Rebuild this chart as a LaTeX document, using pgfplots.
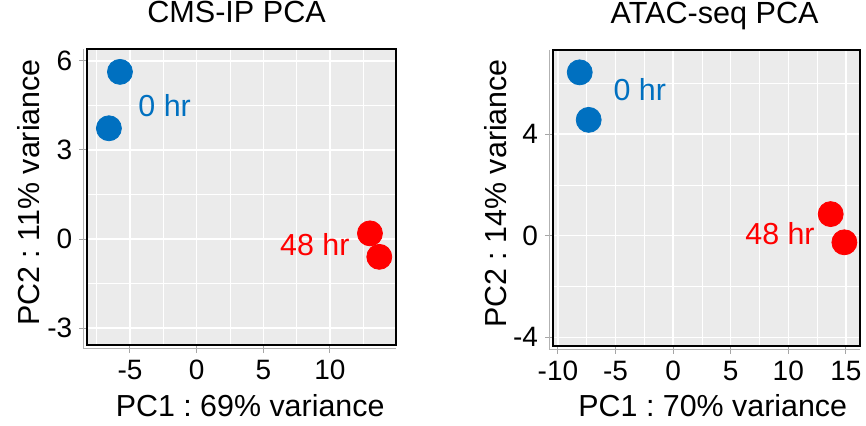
\documentclass[border=0pt]{standalone}
\usepackage{fontspec}
\setmainfont{Liberation Sans}
\usepackage{pgfplots}
\pgfplotsset{compat=1.18}
\definecolor{panelbg}{HTML}{EBEBEB}
\definecolor{grpblue}{HTML}{0070C0}
\definecolor{grpred}{HTML}{FF0000}
\frenchspacing

\tikzset{tag/.style={text=#1, font=\fontsize{15.2}{16}\selectfont}}
\pgfplotsset{
  pcapanel/.style={
    scale only axis,
    clip=false,
    axis background/.style={fill=panelbg},
    axis line style={black, line width=1pt},
    grid=both,
    major grid style={white, line width=0.7pt},
    minor grid style={white, line width=0.35pt},
    tick align=outside,
    major tick length=4pt,
    minor tick length=0pt,
    tick style={gray!70, line width=0.5pt},
    xtick pos=bottom, ytick pos=left,
    ticklabel style={font=\fontsize{14}{15}\selectfont, text=black},
    label style={font=\fontsize{15.2}{16}\selectfont},
    title style={font=\fontsize{15.3}{16}\selectfont, anchor=base},
    ylabel style={anchor=base},
    xlabel style={anchor=base},
  },
  dots/.style={only marks, mark=*, mark size=6.25pt, color=#1},
}

\begin{document}
\begin{tikzpicture}
\useasboundingbox (0,0) rectangle (433pt,213pt);

% left panel: CMS-IP
\begin{axis}[pcapanel,
  at={(43.65pt,40.5pt)}, anchor=south west,
  width=154.2pt, height=147.85pt,
  xmin=-8.2, xmax=14.93, ymin=-3.57, ymax=6.39,
  xtick={-5,0,5,10}, xticklabels={-5,0,5,10},
  ytick={-3,0,3,6}, yticklabels={-3,0,3,6},
  minor xtick={-7.5,-2.5,2.5,7.5,12.5},
  minor ytick={-1.5,1.5,4.5},
  title={CMS-IP PCA},
  title style={at={(axis description cs:0.484,1.0507)}},
  xlabel={PC1 : 69\% variance},
  xlabel style={at={(axis description cs:0.528,-0.2425)}},
  ylabel={PC2 : 11\% variance},
  ylabel style={at={(axis description cs:-0.1534,0.516)}},
]
\draw[gray!60, line width=0.5pt] ([xshift=-2pt]rel axis cs:0,1) -- ([xshift=-2pt,yshift=-2pt]rel axis cs:0,0) -- ([yshift=-2pt]rel axis cs:1,0);
\addplot[dots=grpblue] coordinates {(-5.75,5.63) (-6.58,3.73)};
\addplot[dots=grpred] coordinates {(13.0,0.19) (13.7,-0.6)};
\node[tag=grpblue] at (axis cs:-2.4,4.48) {0 hr};
\node[tag=grpred] at (axis cs:8.86,-0.2) {48 hr};
\end{axis}

% right panel: ATAC-seq
\begin{axis}[pcapanel,
  at={(276.5pt,40.15pt)}, anchor=south west,
  width=153.35pt, height=147.85pt,
  xmin=-10.43, xmax=16.2, ymin=-4.33, ymax=7.31,
  xtick={-10,-5,0,5,10,15}, xticklabels={-10,-5,0,5,10,15},
  ytick={-4,0,4}, yticklabels={-4,0,4},
  minor xtick={-7.5,-2.5,2.5,7.5,12.5},
  minor ytick={-2,2,6},
  title={ATAC-seq PCA},
  title style={at={(axis description cs:0.527,1.0507)}},
  xlabel={PC1 : 70\% variance},
  xlabel style={at={(axis description cs:0.521,-0.240)}},
  ylabel={PC2 : 14\% variance},
  ylabel style={at={(axis description cs:-0.1523,0.515)}},
]
\draw[gray!60, line width=0.5pt] ([xshift=-2pt]rel axis cs:0,1) -- ([xshift=-2pt,yshift=-2pt]rel axis cs:0,0) -- ([yshift=-2pt]rel axis cs:1,0);
\addplot[dots=grpblue] coordinates {(-8.11,6.43) (-7.33,4.56)};
\addplot[dots=grpred] coordinates {(13.68,0.85) (14.87,-0.26)};
\node[tag=grpblue] at (axis cs:-2.9,5.74) {0 hr};
\node[tag=grpred] at (axis cs:9.28,0.09) {48 hr};
\end{axis}
\end{tikzpicture}
\end{document}
